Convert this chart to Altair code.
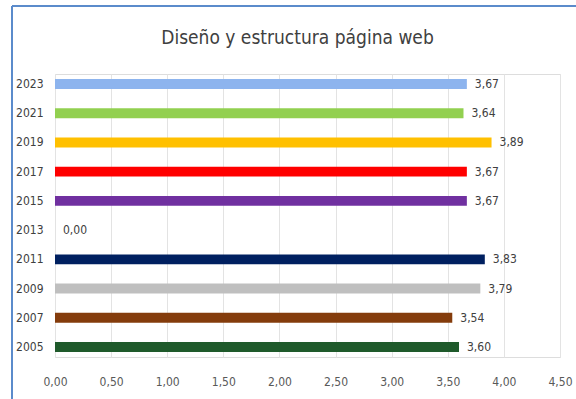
import altair as alt
import pandas as pd

# Survey scores per edition (0 = no data collected that year)
years = ["2023", "2021", "2019", "2017", "2015", "2013", "2011", "2009", "2007", "2005"]
scores = [3.67, 3.64, 3.89, 3.67, 3.67, 0.00, 3.83, 3.79, 3.54, 3.60]
bar_colors = ["#8DB4EE", "#92D050", "#FFC000", "#FF0000", "#7030A0",
              "#FFFFFF", "#002060", "#BFBFBF", "#843C0C", "#1F5A2B"]
tick_values = [0, 0.5, 1, 1.5, 2, 2.5, 3, 3.5, 4, 4.5]

df = pd.DataFrame({"year": years, "score": scores, "color": bar_colors})
df["label"] = df["score"].map(lambda v: f"{v:.2f}".replace(".", ","))

FONT = "DejaVu Sans Condensed, Liberation Sans Narrow, Roboto, sans-serif"
W, H = 505, 283
TOP, LEFT = 74, 55

x = alt.X(
    "score:Q",
    scale=alt.Scale(domain=[0, 4.5], nice=False),
    axis=alt.Axis(
        values=tick_values,
        labelExpr="replace(format(datum.value, '.2f'), '.', ',')",
        title=None,
        domain=False,
        ticks=False,
        grid=True,
        gridColor="#E3E3E3",
        gridWidth=1,
        labelFlush=False,
        labelFont=FONT,
        labelFontSize=12,
        labelColor="#595959",
        labelPadding=19,
    ),
)
y = alt.Y(
    "year:N",
    sort=years,
    scale=alt.Scale(paddingInner=0.66, paddingOuter=0.17),
    axis=alt.Axis(
        title=None,
        domain=False,
        ticks=False,
        labelFont=FONT,
        labelFontSize=12,
        labelColor="#404040",
        labelPadding=12,
    ),
)

base = alt.Chart(df)

bars = base.mark_bar().encode(
    x=x,
    y=y,
    color=alt.Color("color:N", scale=None),
)

labels = base.mark_text(
    align="left", dx=8, font=FONT, fontSize=12, color="#404040"
).encode(x="score:Q", y=alt.Y("year:N", sort=years), text="label:N")

# Blue frame around the chart (left and top edges)
frame_left = alt.Chart(df).mark_rule(color="#5B8BCB", strokeWidth=2).encode(
    x=alt.value(12 - LEFT), y=alt.value(6 - TOP), y2=alt.value(H + 50)
)
frame_top = alt.Chart(df).mark_rule(color="#5B8BCB", strokeWidth=2).encode(
    x=alt.value(12 - LEFT), x2=alt.value(W + 30), y=alt.value(6 - TOP)
)

chart = (
    alt.layer(frame_left, frame_top, bars, labels)
    .properties(
        width=W,
        height=H,
        title=alt.Title(
            "Diseño y estructura página web",
            font=FONT,
            fontSize=19,
            fontWeight="normal",
            color="#404040",
            anchor="middle",
            dx=-10,
            offset=-43,
        ),
        padding={"left": LEFT, "top": TOP, "right": 16, "bottom": 399 - TOP - H},
        autosize=alt.AutoSizeParams(type="none"),
    )
    .configure_view(strokeWidth=0)
    .configure(background="white")
)

chart.save("out.html", embed_options={"renderer": "svg", "actions": False})
